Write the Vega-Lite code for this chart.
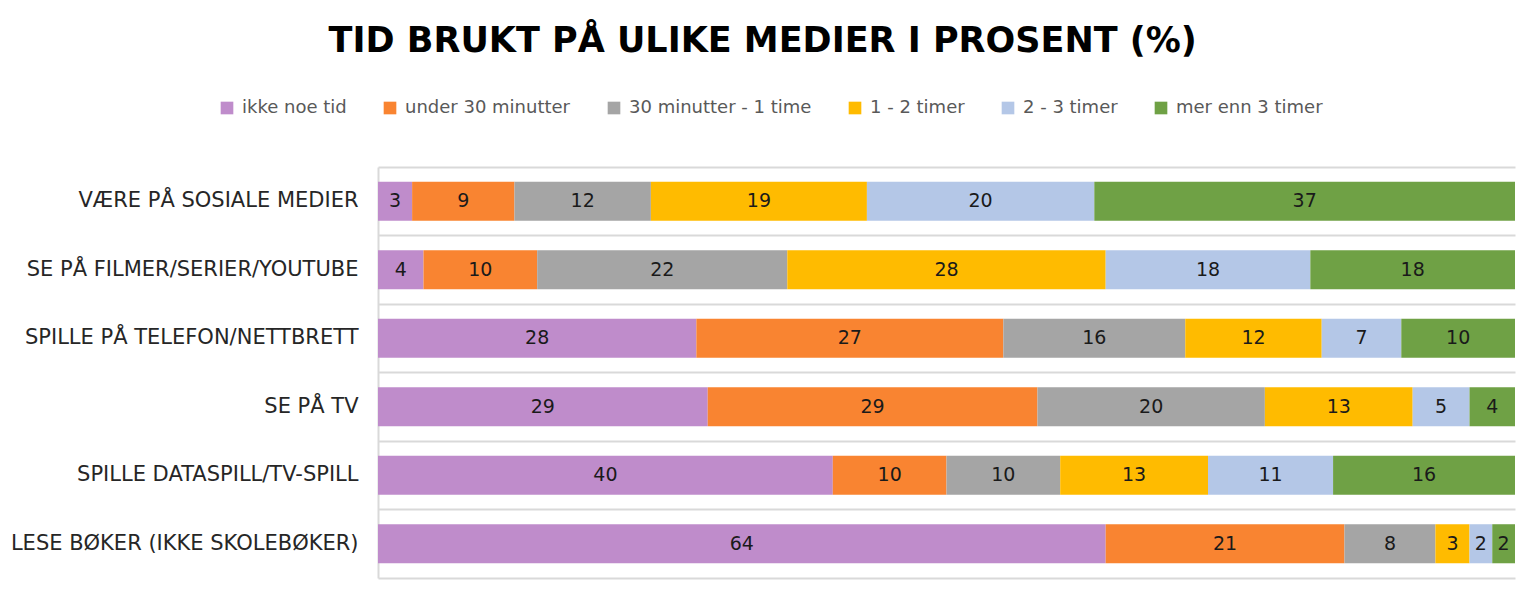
{
  "$schema": "https://vega.github.io/schema/vega-lite/v6.json",
  "width": 1137,
  "height": 411,
  "autosize": {"type": "none"},
  "padding": {"left": 378, "top": 167, "right": 15, "bottom": 22},
  "background": "white",
  "title": {
    "text": "TID BRUKT PÅ ULIKE MEDIER I PROSENT (%)",
    "font": "DejaVu Sans",
    "fontSize": 35,
    "fontWeight": "bold",
    "color": "#000000",
    "anchor": "middle",
    "frame": "bounds",
    "offset": 40
  },
  "config": {"view": {"stroke": null}},
  "data": {
    "values": [
      {"aktivitet": "VÆRE PÅ SOSIALE MEDIER", "tid": "ikke noe tid", "n": 1, "verdi": 3},
      {"aktivitet": "VÆRE PÅ SOSIALE MEDIER", "tid": "under 30 minutter", "n": 2, "verdi": 9},
      {"aktivitet": "VÆRE PÅ SOSIALE MEDIER", "tid": "30 minutter - 1 time", "n": 3, "verdi": 12},
      {"aktivitet": "VÆRE PÅ SOSIALE MEDIER", "tid": "1 - 2 timer", "n": 4, "verdi": 19},
      {"aktivitet": "VÆRE PÅ SOSIALE MEDIER", "tid": "2 - 3 timer", "n": 5, "verdi": 20},
      {"aktivitet": "VÆRE PÅ SOSIALE MEDIER", "tid": "mer enn 3 timer", "n": 6, "verdi": 37},
      {"aktivitet": "SE PÅ FILMER/SERIER/YOUTUBE", "tid": "ikke noe tid", "n": 1, "verdi": 4},
      {"aktivitet": "SE PÅ FILMER/SERIER/YOUTUBE", "tid": "under 30 minutter", "n": 2, "verdi": 10},
      {"aktivitet": "SE PÅ FILMER/SERIER/YOUTUBE", "tid": "30 minutter - 1 time", "n": 3, "verdi": 22},
      {"aktivitet": "SE PÅ FILMER/SERIER/YOUTUBE", "tid": "1 - 2 timer", "n": 4, "verdi": 28},
      {"aktivitet": "SE PÅ FILMER/SERIER/YOUTUBE", "tid": "2 - 3 timer", "n": 5, "verdi": 18},
      {"aktivitet": "SE PÅ FILMER/SERIER/YOUTUBE", "tid": "mer enn 3 timer", "n": 6, "verdi": 18},
      {"aktivitet": "SPILLE PÅ TELEFON/NETTBRETT", "tid": "ikke noe tid", "n": 1, "verdi": 28},
      {"aktivitet": "SPILLE PÅ TELEFON/NETTBRETT", "tid": "under 30 minutter", "n": 2, "verdi": 27},
      {"aktivitet": "SPILLE PÅ TELEFON/NETTBRETT", "tid": "30 minutter - 1 time", "n": 3, "verdi": 16},
      {"aktivitet": "SPILLE PÅ TELEFON/NETTBRETT", "tid": "1 - 2 timer", "n": 4, "verdi": 12},
      {"aktivitet": "SPILLE PÅ TELEFON/NETTBRETT", "tid": "2 - 3 timer", "n": 5, "verdi": 7},
      {"aktivitet": "SPILLE PÅ TELEFON/NETTBRETT", "tid": "mer enn 3 timer", "n": 6, "verdi": 10},
      {"aktivitet": "SE PÅ TV", "tid": "ikke noe tid", "n": 1, "verdi": 29},
      {"aktivitet": "SE PÅ TV", "tid": "under 30 minutter", "n": 2, "verdi": 29},
      {"aktivitet": "SE PÅ TV", "tid": "30 minutter - 1 time", "n": 3, "verdi": 20},
      {"aktivitet": "SE PÅ TV", "tid": "1 - 2 timer", "n": 4, "verdi": 13},
      {"aktivitet": "SE PÅ TV", "tid": "2 - 3 timer", "n": 5, "verdi": 5},
      {"aktivitet": "SE PÅ TV", "tid": "mer enn 3 timer", "n": 6, "verdi": 4},
      {"aktivitet": "SPILLE DATASPILL/TV-SPILL", "tid": "ikke noe tid", "n": 1, "verdi": 40},
      {"aktivitet": "SPILLE DATASPILL/TV-SPILL", "tid": "under 30 minutter", "n": 2, "verdi": 10},
      {"aktivitet": "SPILLE DATASPILL/TV-SPILL", "tid": "30 minutter - 1 time", "n": 3, "verdi": 10},
      {"aktivitet": "SPILLE DATASPILL/TV-SPILL", "tid": "1 - 2 timer", "n": 4, "verdi": 13},
      {"aktivitet": "SPILLE DATASPILL/TV-SPILL", "tid": "2 - 3 timer", "n": 5, "verdi": 11},
      {"aktivitet": "SPILLE DATASPILL/TV-SPILL", "tid": "mer enn 3 timer", "n": 6, "verdi": 16},
      {"aktivitet": "LESE BØKER (IKKE SKOLEBØKER)", "tid": "ikke noe tid", "n": 1, "verdi": 64},
      {"aktivitet": "LESE BØKER (IKKE SKOLEBØKER)", "tid": "under 30 minutter", "n": 2, "verdi": 21},
      {"aktivitet": "LESE BØKER (IKKE SKOLEBØKER)", "tid": "30 minutter - 1 time", "n": 3, "verdi": 8},
      {"aktivitet": "LESE BØKER (IKKE SKOLEBØKER)", "tid": "1 - 2 timer", "n": 4, "verdi": 3},
      {"aktivitet": "LESE BØKER (IKKE SKOLEBØKER)", "tid": "2 - 3 timer", "n": 5, "verdi": 2},
      {"aktivitet": "LESE BØKER (IKKE SKOLEBØKER)", "tid": "mer enn 3 timer", "n": 6, "verdi": 2}
    ]
  },
  "transform": [
    {"stack": "verdi", "groupby": ["aktivitet"], "sort": [{"field": "n", "order": "ascending"}], "as": ["x0", "x1"]},
    {"calculate": "(datum.x0 + datum.x1) / 2", "as": "midt"}
  ],
  "encoding": {
    "y": {
      "field": "aktivitet",
      "type": "nominal",
      "sort": ["VÆRE PÅ SOSIALE MEDIER", "SE PÅ FILMER/SERIER/YOUTUBE", "SPILLE PÅ TELEFON/NETTBRETT", "SE PÅ TV", "SPILLE DATASPILL/TV-SPILL", "LESE BØKER (IKKE SKOLEBØKER)"],
      "scale": {"paddingInner": 0, "paddingOuter": 0},
      "axis": {
        "title": null,
        "grid": true,
        "gridColor": "#d9d9d9",
        "gridWidth": 2,
        "bandPosition": 0,
        "ticks": false,
        "tickSize": 0,
        "domain": true,
        "domainColor": "#d9d9d9",
        "domainWidth": 2,
        "labelFont": "DejaVu Sans",
        "labelFontSize": 21,
        "labelColor": "#262626",
        "labelPadding": 20,
        "labelLimit": 600
      }
    }
  },
  "layer": [
    {
      "mark": {"type": "bar", "height": {"band": 0.57}},
      "encoding": {
        "x": {
          "field": "x0",
          "type": "quantitative",
          "scale": {"domain": [0, 100], "nice": false},
          "axis": {"orient": "bottom", "title": null, "labels": false, "ticks": false, "grid": false, "domainColor": "#d9d9d9", "domainWidth": 2}
        },
        "x2": {"field": "x1"},
        "color": {
          "field": "tid",
          "type": "nominal",
          "scale": {
            "domain": ["ikke noe tid", "under 30 minutter", "30 minutter - 1 time", "1 - 2 timer", "2 - 3 timer", "mer enn 3 timer"],
            "range": ["#BF8CCB", "#F98431", "#A5A5A5", "#FFBB00", "#B4C7E7", "#6FA145"]
          },
          "legend": {
            "title": null,
            "orient": "none",
            "direction": "horizontal",
            "legendX": -160,
            "legendY": -68,
            "symbolType": "square",
            "symbolSize": 160,
            "symbolStrokeWidth": 0,
            "labelFont": "DejaVu Sans",
            "labelFontSize": 18,
            "labelColor": "#595959",
            "labelOffset": 6,
            "labelLimit": 400,
            "columnPadding": 34
          }
        }
      }
    },
    {
      "mark": {"type": "text", "font": "DejaVu Sans", "fontSize": 19, "color": "#1a1a1a", "baseline": "middle", "align": "center"},
      "encoding": {
        "x": {
          "field": "midt",
          "type": "quantitative",
          "axis": {"orient": "bottom", "title": null, "labels": false, "ticks": false, "grid": false, "domainColor": "#d9d9d9", "domainWidth": 2}
        },
        "text": {"field": "verdi", "type": "quantitative"}
      }
    }
  ]
}
